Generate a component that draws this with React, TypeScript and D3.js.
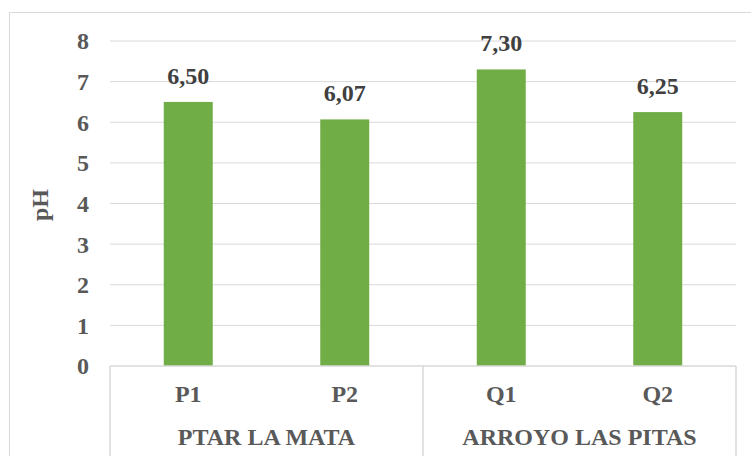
import React from "react";
import { scaleBand, scaleLinear } from "d3";

const categories = ["P1", "P2", "Q1", "Q2"];
const groups = ["PTAR LA MATA", "ARROYO LAS PITAS"];
const groupSizes = [2, 2];
const values = [6.5, 6.07, 7.3, 6.25];
const yTicks = [0, 1, 2, 3, 4, 5, 6, 7, 8];

const W = 751;
const H = 456;
const left = 110;
const right = 736;
const top = 41;
const bottom = 366;
const txt = { fontFamily: "'Liberation Serif', 'DejaVu Serif', serif", fontWeight: 700, fontSize: "24px" };

const App = () => {
  const x = scaleBand<string>().domain(categories).range([left, right]).paddingInner(0.687).paddingOuter(0.3435);
  const y = scaleLinear().domain([0, 8]).range([bottom, top]);
  const band = (right - left) / categories.length;
  const fmt = (v: number) => v.toFixed(2).replace(".", ",");

  let acc = 0;
  const groupEdges = [left, ...groupSizes.map((s) => { acc += s; return left + acc * band; })];

  return (
    <svg width={W} height={H} style={{ position: "absolute", left: 0, top: 0 }}>
      <rect x={0} y={0} width={W} height={H} fill="#fff" />
      <rect x={9.5} y={12.5} width={W + 10} height={H + 10} fill="none" stroke="#d9d9d9" />
      {yTicks.map((t) => (
        <g key={t}>
          {t > 0 && <line x1={left} x2={right} y1={y(t)} y2={y(t)} stroke="#d9d9d9" strokeWidth={1} />}
          <text x={89} y={y(t)} dy="0.35em" textAnchor="end" style={txt} fill="#595959">{t}</text>
        </g>
      ))}
      {categories.map((c, i) => (
        <g key={c}>
          <rect x={x(c)} y={y(values[i])} width={x.bandwidth()} height={bottom - y(values[i])} fill="#70ad47" />
          <text x={x(c)! + x.bandwidth() / 2} y={y(values[i]) - 18} textAnchor="middle" style={txt} fill="#404040">{fmt(values[i])}</text>
          <text x={x(c)! + x.bandwidth() / 2} y={402} textAnchor="middle" style={txt} fill="#595959">{c}</text>
        </g>
      ))}
      <line x1={left} x2={right} y1={bottom} y2={bottom} stroke="#d9d9d9" strokeWidth={1.5} />
      {groupEdges.map((gx, i) => (
        <line key={i} x1={gx} x2={gx} y1={bottom} y2={H} stroke="#d9d9d9" strokeWidth={1.5} />
      ))}
      {groups.map((g, i) => (
        <text key={g} x={(groupEdges[i] + groupEdges[i + 1]) / 2} y={445} textAnchor="middle" style={txt} fill="#595959">{g}</text>
      ))}
      <text transform={`translate(48,205) rotate(-90)`} textAnchor="middle" style={txt} fill="#595959">pH</text>
    </svg>
  );
};

export default App;
